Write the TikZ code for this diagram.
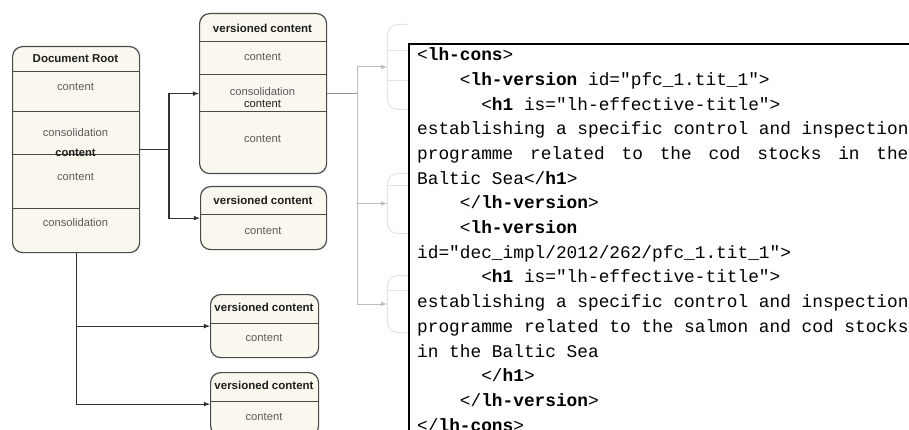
\documentclass[tikz,border=0pt]{standalone}
\usepackage{fontspec}
\setmainfont{Liberation Sans}
\setmonofont{Liberation Mono}
\usetikzlibrary{arrows, calc}
\definecolor{boxfill}{HTML}{FAF7EF}
\definecolor{boxline}{HTML}{4A4A4A}
\definecolor{headtext}{HTML}{1E1E1E}
\definecolor{celltext}{HTML}{5A5A5A}
\definecolor{linecol}{HTML}{333333}
\definecolor{fadeline}{HTML}{BDBDBD}
\definecolor{fadebox}{HTML}{E3E3E3}
\tikzstyle{vbox} = [rectangle, rounded corners=10pt, line width=1.2pt, draw=boxline, fill=boxfill, anchor=north west, inner sep=0pt]
\tikzstyle{fbox} = [rectangle, rounded corners=10pt, line width=1pt, draw=fadebox, fill=white, anchor=north west, inner sep=0pt]
\tikzstyle{head} = [font=\bfseries\fontsize{11.5}{12}\selectfont, text=headtext]
\tikzstyle{cell} = [font=\fontsize{11.2}{12}\selectfont, text=celltext]
\tikzstyle{celldark} = [font=\fontsize{11.2}{12}\selectfont, text=headtext]
\tikzstyle{sep} = [line width=1pt, draw=boxline]
\tikzstyle{arrow} = [line width=1.1pt, draw=linecol, ->, >=latex]
\tikzstyle{fadearrow} = [line width=1pt, draw=fadeline, ->, >=latex]
\newcommand{\ind}[1]{\hspace*{#1}}
\newcommand{\tagb}[1]{\textbf{#1}}

\begin{document}
\begin{tikzpicture}[x=1pt, y=-1pt]
	\useasboundingbox (0,0) rectangle (909,430);
	\clip (0,0) rectangle (909,430);

	% document root
	\node (dr) [vbox, minimum width=127pt, minimum height=206pt] at (12,46) {};
	\draw [sep] ($(dr.north west)+(0,26)$) -- ($(dr.north east)+(0,26)$);
	\draw [sep] ($(dr.north west)+(0,66)$) -- ($(dr.north east)+(0,66)$);
	\draw [sep] ($(dr.north west)+(0,109)$) -- ($(dr.north east)+(0,109)$);
	\draw [sep] ($(dr.north west)+(0,163)$) -- ($(dr.north east)+(0,163)$);
	\node (drt) [head] at (75.5,59) {Document Root};
	\node (drc1) [cell] at (75.5,87) {content};
	\node (drs1) [cell] at (75.5,132) {consolidation};
	\node (drc2) [celldark, font=\bfseries\fontsize{11.2}{12}\selectfont] at (75.5,153) {content};
	\node (drc3) [cell] at (75.5,177) {content};
	\node (drs2) [cell] at (75.5,222) {consolidation};

	% versioned content boxes
	\node (v1) [vbox, minimum width=127pt, minimum height=160pt] at (199,13) {};
	\draw [sep] ($(v1.north west)+(0,29)$) -- ($(v1.north east)+(0,29)$);
	\draw [sep] ($(v1.north west)+(0,62)$) -- ($(v1.north east)+(0,62)$);
	\draw [sep] ($(v1.north west)+(0,99)$) -- ($(v1.north east)+(0,99)$);
	\node (v1t) [head] at (262.5,28) {versioned content};
	\node (v1c1) [cell] at (262.5,57) {content};
	\node (v1s) [cell] at (262.5,91) {consolidation};
	\node (v1c2) [celldark] at (262.5,104) {content};
	\node (v1c3) [cell] at (262.5,139) {content};

	\node (v2) [vbox, minimum width=126pt, minimum height=63pt] at (200,186) {};
	\draw [sep] ($(v2.north west)+(0,29)$) -- ($(v2.north east)+(0,29)$);
	\node (v2t) [head] at (263,200) {versioned content};
	\node (v2c) [cell] at (263,231) {content};

	\node (v3) [vbox, minimum width=108pt, minimum height=63pt] at (210,294) {};
	\draw [sep] ($(v3.north west)+(0,29)$) -- ($(v3.north east)+(0,29)$);
	\node (v3t) [head] at (264,307) {versioned content};
	\node (v3c) [cell] at (264,338) {content};

	\node (v4) [vbox, minimum width=108pt, minimum height=63pt] at (210,372) {};
	\draw [sep] ($(v4.north west)+(0,29)$) -- ($(v4.north east)+(0,29)$);
	\node (v4t) [head] at (264,385) {versioned content};
	\node (v4c) [cell] at (264,417) {content};

	% connectors
	\coordinate (fork) at (169,0);
	\draw [arrow] (dr.east) -- (dr.east -| fork) |- (v1.west);
	\draw [arrow] (dr.east -| fork) |- (v2.west);
	\draw [arrow] (dr.south) |- (v3.west);
	\draw [arrow] (dr.south) |- (v4.west);

	% faded boxes, cut off by the listing
	\begin{scope}
		\clip (0,0) rectangle (408,430);
		\node (f1) [fbox, minimum width=127pt, minimum height=85pt] at (387,24) {};
		\draw [fadebox, line width=0.8pt] ($(f1.north west)+(0,26)$) -- ($(f1.north east)+(0,26)$);
		\draw [fadebox, line width=0.8pt] ($(f1.north west)+(0,56)$) -- ($(f1.north east)+(0,56)$);
		\node (f2) [fbox, minimum width=127pt, minimum height=60pt] at (387,173) {};
		\draw [fadebox, line width=0.8pt] ($(f2.north west)+(0,12)$) -- ($(f2.north east)+(0,12)$);
		\node (f3) [fbox, minimum width=127pt, minimum height=57pt] at (387,275) {};
		\draw [fadebox, line width=0.8pt] ($(f3.north west)+(0,15)$) -- ($(f3.north east)+(0,15)$);
	\end{scope}
	\coordinate (fork2) at (357,0);
	\draw [line width=1.1pt, draw=gray!80] (v1.east) -- (v1.east -| fork2);
	\draw [fadearrow] (v1.east -| fork2) |- (f1.west);
	\draw [fadearrow] (v1.east -| fork2) |- (f2.west);
	\draw [fadearrow] (v1.east -| fork2) |- (f3.west);

	% xml listing
	\node (code) [rectangle, draw=black, line width=2pt, fill=white, anchor=north west, minimum width=520pt, minimum height=420pt] at (408,43) {};
	\node (xml) [anchor=north west, align=left, inner sep=0pt, font=\ttfamily\fontsize{17.8}{24.7}\selectfont] at (417,47.5) {%
<\tagb{lh-cons}>\\
\ind{2.4em}<\tagb{lh-version} id="pfc\_1.tit\_1">\\
\ind{3.6em}<\tagb{h1} is="lh-effective-title">\\
establishing a specific control and inspection\\
\makebox[27.6em][l]{programme\hfill related\hfill to\hfill the\hfill cod\hfill stocks\hfill in\hfill the}\\
Baltic Sea</\tagb{h1}>\\
\ind{2.4em}</\tagb{lh-version}>\\
\ind{2.4em}<\tagb{lh-version}\\
id="dec\_impl/2012/262/pfc\_1.tit\_1">\\
\ind{3.6em}<\tagb{h1} is="lh-effective-title">\\
establishing a specific control and inspection\\
programme related to the salmon and cod stocks\\
in the Baltic Sea\\
\ind{3.6em}</\tagb{h1}>\\
\ind{2.4em}</\tagb{lh-version}>\\
</\tagb{lh-cons}>};
\end{tikzpicture}
\end{document}
